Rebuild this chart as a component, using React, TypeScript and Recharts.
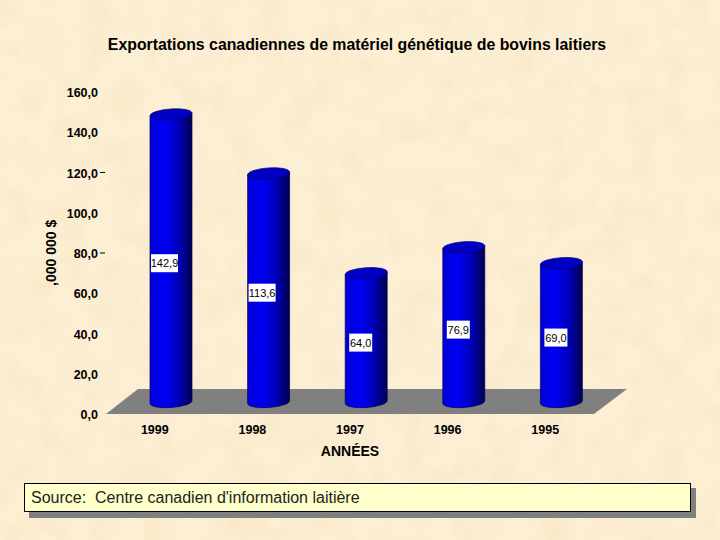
import { Bar, ComposedChart, LabelList, ReferenceArea, XAxis, YAxis } from "recharts";

const YEARS = ["1999", "1998", "1997", "1996", "1995"];
const EXPORTS = [142.9, 113.6, 64.0, 76.9, 69.0];
const Y_TICKS = [0, 20, 40, 60, 80, 100, 120, 140, 160];
const DASHED_TICKS = [80, 120];

const FONT = '"Liberation Sans", Arial, sans-serif';
const DEPTH_X = 15;
const DEPTH_Y = 12;

const data = YEARS.map((year, i) => ({ year, value: EXPORTS[i] }));
const fmt = (v: number) => v.toFixed(1).replace(".", ",");

function Cylinder({ x, y, width, height }: any) {
  const left = x + DEPTH_X;
  const right = left + width;
  const top = y - DEPTH_Y;
  const bottom = top + height;
  const cx = left + width / 2;
  const rx = width / 2;
  const ry = 5.5;
  return (
    <g>
      <path
        d={`M${left} ${top + 1.5} L${right} ${top - 1.5} L${right} ${bottom - 1.5} A${rx} ${ry} -4 0 1 ${left} ${bottom + 1.5} Z`}
        fill="url(#cyl)"
        stroke="#000050"
        strokeWidth={0.7}
      />
      <ellipse
        cx={cx}
        cy={top}
        rx={rx}
        ry={ry}
        transform={`rotate(-4 ${cx} ${top})`}
        fill="#0000c4"
        stroke="#000070"
        strokeWidth={0.7}
      />
    </g>
  );
}

function Floor({ x, y, width, height }: any) {
  const pts = [
    [x - 1, y + height],
    [x + width - 1, y + height],
    [x + width + 32, y],
    [x + 31, y],
  ];
  return <polygon points={pts.map((p) => p.join(",")).join(" ")} fill="#808080" />;
}

function ValueBox({ x, y, height, value }: any) {
  const text = fmt(value);
  const long = text.length > 4;
  const w = long ? 27 : 23;
  const left = x + DEPTH_X + (long ? 1 : 4);
  const mid = y - DEPTH_Y + height / 2 + 5;
  return (
    <g>
      <rect x={left} y={mid - 9} width={w} height={18} fill="#ffffff" />
      <text
        x={left + w / 2}
        y={mid + 4}
        textAnchor="middle"
        fontFamily={FONT}
        fontSize={11}
        fill="#000000"
      >
        {text}
      </text>
    </g>
  );
}

function YTick({ y, payload }: any) {
  return (
    <g>
      <text
        x={98}
        y={y + 5}
        textAnchor="end"
        fontFamily={FONT}
        fontSize={12.5}
        fontWeight="bold"
        fill="#000000"
      >
        {fmt(payload.value)}
      </text>
      {DASHED_TICKS.includes(payload.value) && (
        <line x1={100} x2={105} y1={y} y2={y} stroke="#000000" />
      )}
    </g>
  );
}

function XTick({ x, payload }: any) {
  return (
    <text
      x={x - 1}
      y={434}
      textAnchor="middle"
      fontFamily={FONT}
      fontSize={12.5}
      fontWeight="bold"
      fill="#000000"
    >
      {payload.value}
    </text>
  );
}

export default function App() {
  return (
    <div style={{ position: "fixed", left: 0, top: 0, width: 720, height: 540, overflow: "hidden", background: "#fcefd4" }}>
      {/* parchment texture */}
      <svg width={720} height={540} style={{ position: "absolute", left: 0, top: 0 }}>
        <filter id="paper" x="0" y="0" width="100%" height="100%">
          <feTurbulence type="fractalNoise" baseFrequency="0.035" numOctaves={3} seed={4} />
          <feColorMatrix
            type="matrix"
            values="0 0 0 0 0.93  0 0 0 0 0.78  0 0 0 0 0.54  1.1 0 0 0 -0.4"
          />
        </filter>
        <rect width={720} height={540} filter="url(#paper)" />
      </svg>

      <div
        style={{
          position: "absolute",
          left: 0,
          width: 714,
          top: 36,
          textAlign: "center",
          fontFamily: FONT,
          fontSize: 15.85,
          fontWeight: "bold",
          lineHeight: "18px",
          color: "#000",
        }}
      >
        Exportations canadiennes de matériel génétique de bovins laitiers
      </div>

      <div style={{ position: "absolute", left: 0, top: 0 }}>
        <ComposedChart
          width={720}
          height={540}
          data={data}
          margin={{ top: 92, right: 125, bottom: 96, left: 47 }}
          style={{ background: "transparent" }}
        >
          <defs>
            <linearGradient id="cyl" x1="0" y1="0" x2="1" y2="0">
              <stop offset="0%" stopColor="#0000d8" />
              <stop offset="35%" stopColor="#0000f4" />
              <stop offset="65%" stopColor="#0000c0" />
              <stop offset="100%" stopColor="#000050" />
            </linearGradient>
          </defs>
          <ReferenceArea y1={0} y2={12.4} shape={<Floor />} ifOverflow="visible" />
          <XAxis
            dataKey="year"
            axisLine={false}
            tickLine={false}
            height={30}
            tick={<XTick />}
            interval={0}
            label={{
              value: "ANNÉES",
              position: "insideBottom",
              offset: -12,
              dx: -1,
              fontFamily: FONT,
              fontSize: 14,
              fontWeight: "bold",
              fill: "#000000",
            }}
          />
          <YAxis
            domain={[0, 160]}
            ticks={Y_TICKS}
            axisLine={false}
            tickLine={false}
            width={60}
            tick={<YTick />}
            interval={0}
            label={{
              value: ",000 000 $",
              angle: -90,
              position: "insideLeft",
              offset: 4,
              dy: 33,
              fontFamily: FONT,
              fontSize: 14,
              fontWeight: "bold",
              fill: "#000000",
            }}
          />
          <Bar dataKey="value" barSize={42} shape={<Cylinder />} isAnimationActive={false}>
            <LabelList dataKey="value" content={<ValueBox />} />
          </Bar>
        </ComposedChart>
      </div>

      <div style={{ position: "absolute", left: 29, top: 488, width: 667, height: 30, background: "#808080" }} />
      <div
        style={{
          position: "absolute",
          left: 24,
          top: 483,
          width: 665,
          height: 27,
          background: "#ffffcc",
          border: "1px solid #000",
          fontFamily: FONT,
          fontSize: 16,
          lineHeight: "27px",
          color: "#222",
          whiteSpace: "pre",
        }}
      >
        <span style={{ marginLeft: 6 }}>Source:  Centre canadien d'information laitière</span>
      </div>
    </div>
  );
}
